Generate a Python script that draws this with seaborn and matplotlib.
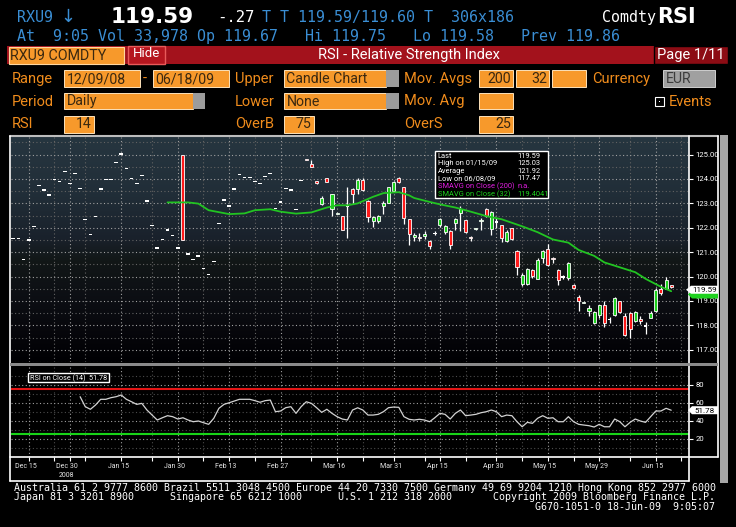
import numpy as np
import matplotlib
matplotlib.use('Agg')
import matplotlib.pyplot as plt
import seaborn as sns
from matplotlib.patches import Rectangle, Polygon
from matplotlib.lines import Line2D
from matplotlib.transforms import ScaledTranslation

# ---------------- data ----------------
closes = [121.57, 121.57, 120.69, 121.49, 122.06, 123.74, 123.54, 123.34, 123.98, 123.90,
          124.30, 123.82, 124.22, 123.62, 122.34, 121.73, 122.46, 123.58, 123.98, 123.98,
          124.67, 125.03, 124.43, 124.02, 123.82, 124.14, 123.10, 122.10, 121.17, 121.53,
          121.90, 121.69, 121.17, 121.50, 120.93, 120.69, 120.85, 120.33, 120.09, 120.61,
          122.18, 123.14, 122.90, 123.58, 124.18, 124.06, 124.06, 123.90, 123.82, 124.10,
          124.22, 122.78, 123.06, 123.62, 123.54, 122.74, 123.94,
          124.77, 124.50, 123.82, 123.20, 123.89, 123.38, 122.60, 121.92, 122.90, 123.38,
          123.97, 123.54, 122.46, 122.46, 122.50, 123.03, 123.66, 123.89, 123.86, 122.39,
          121.76, 121.70, 121.57, 121.72, 121.25, 121.77, 122.36, 122.08, 121.28, 122.35,
          122.76, 121.81, 121.57, 121.97, 122.30, 122.48, 122.63, 122.24, 121.59, 121.84,
          121.56, 120.38, 120.05, 120.31, 120.01, 120.69, 121.05, 120.47, 120.72, 119.87,
          119.98, 120.55, 119.55, 119.00, 118.96, 118.73, 118.55, 118.84, 118.10, 118.25,
          119.11, 118.53, 117.61, 117.84, 118.55, 118.17, 117.97, 118.51, 119.45, 119.31,
          119.85, 119.59]
# None = settlement-only day (open = high = low = close)
opens = [None] * 33 + [125.00] + [None] * 23 + [
          124.82, 124.62, 123.90, 122.96, 124.02, 122.79, 122.56, 122.47, 122.90, 123.59,
          123.57, 123.94, 123.10, 122.28, 122.26, 122.88, 123.02, 123.49, 124.04, 123.66,
          122.35, 121.62, 121.62, 121.68, 121.45, 121.77, 122.12, 121.81, 121.86, 122.19,
          122.59, 122.30, 121.62, 121.93, 122.26, 122.76, 121.95, 122.24, 122.10, 121.44,
          121.98, 121.05, 119.71, 119.71, 120.29, 119.91, 120.78, 121.14, 120.76, 120.29,
          119.98, 119.94, 119.67, 119.15, 118.92, 118.60, 118.10, 118.44, 118.84, 118.25,
          118.44, 118.98, 118.37, 118.51, 118.17, 118.27, 117.97, 118.31, 118.57, 119.51,
          119.51, 119.62]
highs = [None] * 33 + [125.00] + [None] * 23 + [
          124.82, 124.78, 123.92, 123.30, 124.05, 123.40, 122.60, 122.47, 123.66, 123.62,
          124.03, 124.05, 123.12, 122.50, 122.52, 123.10, 123.68, 123.92, 124.10, 123.68,
          122.37, 121.79, 121.80, 121.85, 121.50, 121.85, 122.40, 122.10, 121.90, 122.40,
          122.90, 122.32, 121.65, 122.00, 122.40, 122.80, 122.70, 122.40, 122.12, 121.90,
          122.00, 121.10, 120.15, 120.35, 120.30, 120.75, 121.10, 121.35, 120.80, 120.30,
          120.05, 120.60, 119.70, 119.25, 118.96, 118.85, 118.58, 118.85, 119.00, 118.35,
          119.15, 119.00, 118.50, 118.55, 118.60, 118.40, 118.15, 118.60, 119.55, 119.70,
          120.00, 119.65]
lows = [None] * 33 + [121.50] + [None] * 23 + [
          124.77, 124.50, 123.80, 122.94, 123.87, 122.50, 122.56, 121.92, 121.59, 123.00,
          123.38, 123.50, 122.22, 122.05, 122.20, 122.55, 123.00, 123.45, 123.84, 122.15,
          121.30, 121.47, 121.45, 121.55, 121.15, 121.69, 122.05, 121.75, 121.15, 121.90,
          121.85, 121.78, 121.45, 121.90, 121.90, 122.45, 121.70, 122.00, 121.40, 121.40,
          121.50, 120.05, 119.60, 119.65, 119.95, 119.90, 120.55, 120.45, 120.55, 119.65,
          119.90, 119.85, 119.50, 118.60, 118.92, 118.40, 118.05, 118.30, 117.95, 118.10,
          118.40, 118.50, 117.55, 117.47, 118.15, 118.05, 117.65, 118.30, 118.55, 119.25,
          119.50, 119.55]

sma_idx = [30, 34, 36, 38, 40, 42, 45, 47, 50, 52, 55, 58, 61, 63, 65, 67, 70, 72, 75,
           77, 78, 81, 83, 86, 89, 92, 95, 99, 102, 105, 108, 110, 113, 115, 118, 121,
           123, 126, 128]
sma_val = [123.04, 123.04, 122.99, 122.72, 122.64, 122.56, 122.59, 122.72, 122.76, 122.66,
           122.58, 122.63, 122.83, 122.92, 122.92, 123.00, 123.27, 123.42, 123.46, 123.33,
           123.22, 123.06, 122.96, 122.83, 122.66, 122.48, 122.35, 122.06, 121.82, 121.52,
           121.39, 121.09, 120.85, 120.58, 120.38, 120.18, 119.91, 119.58, 119.40]

rsi_start = 13
rsi_vals = [66.8, 55.7, 52.8, 57.6, 63.9, 63.9, 65.7, 66.8, 68.7, 63.9, 61.2, 58.3, 59.4,
            52.0, 46.4, 40.9, 43.4, 45.7, 44.6, 42.0, 43.4, 40.9, 39.0, 39.8, 37.9, 36.1,
            42.8, 53.9, 58.3, 60.1, 62.0, 63.9, 63.9, 63.9, 62.4, 60.6, 62.4, 63.1, 50.1,
            50.9, 54.6, 55.7, 48.3, 55.7, 61.2, 59.4, 54.6, 49.4, 52.8, 48.3, 44.6, 42.0,
            40.9, 52.0, 54.5, 52.0, 46.4, 46.4, 47.2, 50.1, 54.6, 55.3, 55.0, 44.6, 41.7,
            40.9, 41.7, 40.9, 39.0, 43.4, 48.3, 47.2, 42.0, 48.3, 52.0, 45.7, 46.4, 47.2,
            49.0, 50.1, 52.0, 50.1, 44.6, 46.4, 45.7, 39.0, 33.4, 38.3, 37.2, 42.8, 45.7,
            42.8, 43.4, 39.0, 39.0, 44.6, 39.0, 36.1, 35.3, 34.6, 33.1, 36.1, 33.4, 33.4,
            42.0, 39.0, 33.4, 38.3, 42.0, 39.8, 38.3, 44.6, 50.9, 50.9, 53.9, 51.78]

major_idx = [3, 11, 21, 32, 42, 52, 63, 74, 83, 94, 104, 114, 125]
major_lbl = ['Dec 15', 'Dec 30', 'Jan 15', 'Jan 30', 'Feb 13', 'Feb 27', 'Mar 16',
             'Mar 31', 'Apr 15', 'Apr 30', 'May 15', 'May 29', 'Jun 15']
minor_idx = [8, 14, 27, 37, 47, 58, 68, 80, 88, 99, 109, 120, 130]
price_ticks = [117, 118, 119, 120, 121, 122, 123, 124, 125]
rsi_ticks = [20, 40, 60, 80]
overbought, oversold = 75, 25

legend_rows = [("Last", "119.59"), ("High on 01/15/09", "125.03"), ("Average", "121.92"),
               ("Low on 06/08/09", "117.47"), ("SMAVG on Close (200)", "n.a."),
               ("SMAVG on Close (32)", "119.4041")]
last_price, last_sma, last_rsi = 119.59, 119.40, 51.78

# ---------------- style ----------------
sns.set_theme(style='dark', rc={'axes.facecolor': 'black', 'figure.facecolor': 'black'})
SANS = ['Roboto', 'DejaVu Sans']
plt.rcParams['font.family'] = SANS
MONO = ['DejaVu Sans Mono', 'DejaVu Sans']

BLUE = '#3a8ed4'
ORANGE_TXT = '#f08c1c'
BOX_OR = '#f7992b'
BOX_TXT = '#3a2810'
RED_BAR = '#a3121c'
GREEN = '#1ed21e'
RED = '#ff1a1a'

W, H = 736, 527
fig = plt.figure(figsize=(W / 100, H / 100), dpi=100, facecolor='black')


def fx(x):
    return x / W


def fy(y):
    return 1 - y / H


def box(x0, y0, x1, y1, fc, ec='none', lw=0.0, z=1):
    fig.add_artist(Rectangle((fx(x0), fy(y1)), fx(x1) - fx(x0), fy(y0) - fy(y1),
                             transform=fig.transFigure, facecolor=fc, edgecolor=ec,
                             linewidth=lw, zorder=z))


def hline(x0, x1, y, color, lw, z=2):
    fig.add_artist(Line2D([fx(x0), fx(x1)], [fy(y), fy(y)], transform=fig.transFigure,
                          color=color, lw=lw, zorder=z))


def vline(x, y0, y1, color, lw, z=2):
    fig.add_artist(Line2D([fx(x), fx(x)], [fy(y0), fy(y1)], transform=fig.transFigure,
                          color=color, lw=lw, zorder=z))


def txt(x, y, s, color, size, ha='left', weight='normal', family=None, z=8):
    fig.text(fx(x), fy(y), s, color=color, fontsize=size, ha=ha, va='center',
             fontweight=weight, family=family if family else SANS, zorder=z)


def poly(pts, fc, z=6):
    fig.add_artist(Polygon([(fx(a), fy(b)) for a, b in pts], closed=True,
                           transform=fig.transFigure, facecolor=fc, edgecolor='none', zorder=z))


# ---------------- header ----------------
txt(17, 17.5, "RXU9", BLUE, 10.8, family=MONO)
txt(60, 16.5, "↓", BLUE, 13, family=['DejaVu Sans'])
txt(152, 17, "119.59", 'white', 15.5, ha='center', weight='bold', family=['DejaVu Sans'])
txt(217, 17.5, "-.27", 'white', 11.2, family=MONO)
txt(262, 17.5, "T T 119.59/119.60 T  306x186", BLUE, 10.8, family=MONO)
txt(602, 17.5, "Comdty", 'white', 10.8, family=MONO)
txt(657, 17, "RSI", 'white', 15, weight='bold', family=['DejaVu Sans'])
txt(17, 36, "At  9:05 Vol 33,978 Op 119.67   Hi 119.75   Lo 119.58   Prev 119.86",
    BLUE, 10.8, family=MONO)

box(7, 46, 728, 64, RED_BAR)
box(8.5, 47, 124.5, 63.5, BOX_OR, ec='#ffd7a0', lw=0.8, z=2)
txt(10, 55.5, "RXU9 COMDTY", BOX_TXT, 10.3)
box(127.7, 46, 165.3, 64, '#b5161f', ec='#e85a5a', lw=1.0, z=2)
txt(146.5, 53.5, "Hide", 'white', 9.5, ha='center')
txt(408.5, 55.5, "RSI - Relative Strength Index", 'white', 10.5, ha='center')
box(654, 46, 728, 64, '#8c0c14', ec='black', lw=1.0, z=2)
txt(691, 55.5, "Page 1/11", 'white', 10.5, ha='center')


def obox(x0, x1, y0, y1, s='', align='left', tail=None, fc=BOX_OR, tc=BOX_TXT):
    box(x0, y0, x1, y1, fc, ec='#fde2bb' if fc == BOX_OR else '#cfcfcf', lw=0.7, z=2)
    if tail:
        box(x1, y0, tail, y1, '#9c9c9c', z=2)
    if s:
        ym = (y0 + y1) / 2 + 0.5
        if align == 'left':
            txt(x0 + 2.5, ym, s, tc, 10.2)
        else:
            txt(x1 - 2, ym, s, tc, 10.2, ha='right')


r1, r2, r3 = (70, 87), (93, 109), (115.5, 132.5)
for xx, s in [(12, "Range"), (143, "-"), (235, "Upper"), (404, "Mov. Avgs"), (592, "Currency")]:
    txt(xx, 78.5, s, ORANGE_TXT, 10.5)
obox(64.3, 140, *r1, "12/09/08")
obox(152.6, 229, *r1, "06/18/09")
obox(284, 386, *r1, "Candle Chart", tail=399)
obox(479, 513, *r1, "200", align='right')
obox(515.5, 549, *r1, "32", align='right')
obox(552, 586, *r1)
obox(663, 714.6, *r1, "EUR", fc='#a0a0a0', tc='#3c3c3c')

for xx, s in [(12, "Period"), (235, "Lower"), (404, "Mov. Avg"), (669, "Events")]:
    txt(xx, 101.5, s, ORANGE_TXT, 10.5)
obox(64, 192.5, *r2, "Daily", tail=205)
obox(284, 386, *r2, "None", tail=399)
obox(479, 513, *r2)
box(655, 97, 664, 106, 'black', ec='white', lw=0.8, z=2)
box(658.8, 101, 660.2, 102.4, 'white', z=3)

for xx, s in [(12, "RSI"), (235, "OverB"), (404, "OverS")]:
    txt(xx, 124.5, s, ORANGE_TXT, 10.5)
obox(64, 94, *r3, "14", align='right')
obox(284, 313.6, *r3, "75", align='right')
obox(479, 513, *r3, "25", align='right')

# ---------------- chart axes ----------------
XL = (-0.45, 131.46)
ax = fig.add_axes([fx(11), fy(362), fx(689) - fx(11), fy(137) - fy(362)])
rax = fig.add_axes([fx(11), fy(457), fx(689) - fx(11), fy(367) - fy(457)])

# background gradient of the price panel
stops = np.array([[0.00, 0.15, 0.21, 0.25], [0.25, 0.13, 0.18, 0.22], [0.45, 0.10, 0.13, 0.17],
                  [0.55, 0.07, 0.09, 0.09], [0.70, 0.05, 0.06, 0.08], [0.85, 0.03, 0.03, 0.05],
                  [1.00, 0.00, 0.00, 0.01]])
tt = np.linspace(0, 1, 200)
grad = np.stack([np.interp(tt, stops[:, 0], stops[:, k]) for k in (1, 2, 3)], axis=-1)[:, None, :]
ax.imshow(grad, extent=[0, 1, 0, 1], transform=ax.transAxes, aspect='auto', zorder=0,
          interpolation='bilinear')

n = len(closes)
idx = np.arange(n)
C = np.array(closes, float)
O = np.array([c if v is None else v for v, c in zip(opens, closes)], float)
Hh = np.array([c if v is None else v for v, c in zip(highs, closes)], float)
Ll = np.array([c if v is None else v for v, c in zip(lows, closes)], float)
up, down = C > O, C < O
flat = ~(up | down)
rng = Hh > Ll
ax.vlines(idx[rng], Ll[rng], Hh[rng], color='white', lw=0.9, zorder=3)
ax.bar(idx[flat], 0.06, bottom=C[flat] - 0.03, width=0.72, color='white', linewidth=0, zorder=4)
cand = ~flat
body_lo = np.minimum(O, C)
body_h = np.maximum(np.abs(C - O), 0.05)
ax.bar(idx[cand], body_h[cand], bottom=body_lo[cand], width=0.6,
       color=np.where(up, GREEN, RED)[cand], edgecolor='white', linewidth=0.6, zorder=4)

sns.lineplot(x=sma_idx, y=sma_val, ax=ax, color='#22c422', lw=1.3, zorder=5)

ax.set_xlim(*XL)
ax.set_ylim(116.69, 125.72)
ax.set_xticks(major_idx)
ax.set_xticks(minor_idx, minor=True)
ax.set_yticks(price_ticks)
ax.set_yticks([p + 0.5 for p in [116] + price_ticks], minor=True)
ax.set_yticklabels([f"{p:.2f}" for p in price_ticks])
ax.yaxis.tick_right()
ax.tick_params(axis='x', which='both', length=0, labelbottom=False)
ax.tick_params(axis='y', which='major', colors='white', length=3, width=0.8, labelsize=5.6,
               pad=1.5, labelcolor='white', right=True, left=False)
ax.tick_params(axis='y', which='minor', length=0)
ax.grid(which='major', color='#a0a0a0', ls=(0, (1, 2.2)), lw=0.8)
ax.grid(which='minor', color='#626262', ls=(0, (1, 2.2)), lw=0.8)
ax.set_xlabel('')
ax.set_ylabel('')
for sp in ax.spines.values():
    sp.set_visible(False)

# RSI panel
rax.set_facecolor('black')
rax.axhline(overbought, color='#e51515', lw=1.5, zorder=3)
rax.axhline(oversold, color='#18d418', lw=1.5, zorder=3)
sns.lineplot(x=np.arange(rsi_start, rsi_start + len(rsi_vals)), y=rsi_vals, ax=rax,
             color='#d2d2d2', lw=0.9, zorder=4)
rax.set_xlim(*XL)
rax.set_ylim(-0.2, 99.8)
rax.set_yticks(rsi_ticks)
rax.set_yticks([10, 30, 50, 70, 90], minor=True)
rax.yaxis.tick_right()
rax.set_xticks(major_idx, labels=major_lbl)
rax.set_xticks(minor_idx, minor=True)
rax.tick_params(axis='x', which='both', colors='white', length=3, width=0.8, direction='out',
                labelsize=5.0, labelcolor='#e6e6e6', pad=1.5, bottom=True)
rax.tick_params(axis='y', which='major', colors='white', length=3, width=0.8, labelsize=5.6,
                pad=1.5, labelcolor='white', right=True, left=False)
rax.tick_params(axis='y', which='minor', length=0)
rax.grid(which='major', color='#a0a0a0', ls=(0, (1, 2.2)), lw=0.8)
rax.grid(which='minor', color='#4c4c4c', ls=(0, (1, 2.2)), lw=0.8)
rax.set_xlabel('')
rax.set_ylabel('')
for sp in rax.spines.values():
    sp.set_visible(False)
shift = ScaledTranslation(-3 / 100, 0, fig.dpi_scale_trans)
for lab in rax.get_xticklabels():
    lab.set_transform(lab.get_transform() + shift)
txt(66, 475.5, "2008", '#e6e6e6', 5.0, ha='center')

# ---------------- frame ----------------
hline(10, 718, 136, '#bdbdbd', 1.5)
vline(10, 136, 481, 'white', 1.2)
vline(689, 136, 481, 'white', 1.2)
vline(718, 136, 457, 'white', 1.2)
hline(10, 718, 457, 'white', 1.2)
hline(10, 689, 481, 'white', 1.2)
box(10, 362.5, 718, 366, '#8a8a8a', z=2)
box(720, 135, 728, 483, '#a6a6a6', z=2)

# ---------------- legends / value flags ----------------
box(435.3, 151, 548.3, 198.3, 'black', ec='white', lw=1.0, z=6)
row_y = [156, 163.6, 171.2, 178.8, 186.4, 194]
row_c = ['white', 'white', 'white', 'white', '#e21ee2', GREEN]
for (lab, val), yy, cc in zip(legend_rows, row_y, row_c):
    txt(437.5, yy, lab, cc, 5.4)
    txt(517, yy, val, cc, 5.4)

box(28.3, 373.3, 109.3, 382.3, 'black', ec='white', lw=1.0, z=6)
txt(30.5, 378, f"RSI on Close (14)  {last_rsi:.2f}", 'white', 5.2)


def y_price(v):
    return 137 + (125.72 - v) / (125.72 - 116.69) * (362 - 137)


def y_rsi(v):
    return 367 + (99.8 - v) / 100.0 * 90


ys = y_price(last_sma)
poly([(688, ys), (692, ys - 4), (718, ys - 4), (718, ys + 4), (692, ys + 4)], '#1ed21e', z=6)
yp = y_price(last_price)
poly([(686, yp), (691, yp - 4), (718, yp - 4), (718, yp + 4), (691, yp + 4)], 'white', z=7)
txt(704.5, yp + 0.3, f"{last_price:.2f}", 'black', 5.8, ha='center', z=9)
yr = y_rsi(last_rsi)
poly([(688, yr), (692, yr - 4), (718, yr - 4), (718, yr + 4), (692, yr + 4)], 'white', z=7)
txt(705, yr + 0.3, f"{last_rsi:.2f}", 'black', 5.8, ha='center', z=9)

# ---------------- footer ----------------
txt(14, 488, "Australia 61 2 9777 8600 Brazil 5511 3048 4500 Europe 44 20 7330 7500 "
             "Germany 49 69 9204 1210 Hong Kong 852 2977 6000", 'white', 7.2, family=MONO)
txt(14, 497.5, "Japan 81 3 3201 8900", 'white', 7.2, family=MONO)
txt(170, 497.5, "Singapore 65 6212 1000", 'white', 7.2, family=MONO)
txt(338, 497.5, "U.S. 1 212 318 2000", 'white', 7.2, family=MONO)
txt(715, 497.5, "Copyright 2009 Bloomberg Finance L.P.", 'white', 7.2, ha='right', family=MONO)
txt(715, 507, "G670-1051-0 18-Jun-09  9:05:07", 'white', 7.2, ha='right', family=MONO)

fig.savefig('out.png', dpi=100, facecolor='black')
